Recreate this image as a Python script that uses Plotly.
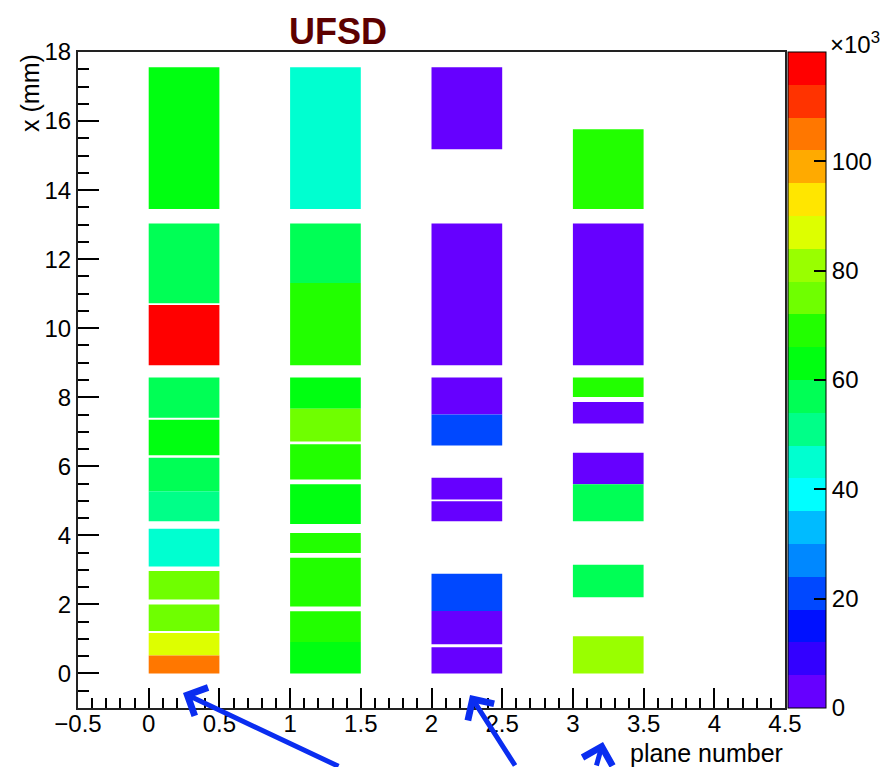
import plotly.graph_objects as go

# Readout of the four UFSD planes: each segment is a strip in x (mm)
# with its signal level (in units of 10^3).
planes = [0, 1, 2, 3]

seg_lo = [
    [13.45, 10.72, 8.93, 7.41, 6.32, 5.28, 4.41, 3.10, 2.14, 1.23, 0.52, 0.00],
    [13.45, 11.31, 8.93, 7.67, 6.72, 5.62, 4.33, 3.49, 1.94, 0.91, 0.00],
    [15.18, 8.93, 7.50, 6.60, 5.04, 4.41, 1.81, 0.85, 0.00],
    [13.45, 8.93, 8.01, 7.24, 5.48, 4.41, 2.21, 0.00],
]
seg_hi = [
    [17.56, 13.03, 10.67, 8.57, 7.35, 6.25, 5.28, 4.19, 2.97, 2.00, 1.17, 0.52],
    [17.56, 13.03, 11.31, 8.57, 7.67, 6.64, 5.48, 4.07, 3.35, 1.80, 0.91],
    [17.56, 13.03, 8.57, 7.50, 5.67, 4.99, 2.89, 1.81, 0.76],
    [15.76, 13.03, 8.57, 7.86, 6.39, 5.48, 3.15, 1.08],
]
seg_val = [
    [63, 57, 117, 57, 63, 57, 51, 45, 75, 75, 87, 105],
    [45, 57, 69, 63, 75, 69, 63, 69, 69, 69, 63],
    [3, 3, 3, 21, 3, 3, 21, 3, 3],
    [69, 3, 69, 3, 3, 57, 57, 81],
]

z_min, z_max = 0, 120
palette = [
    "#6600ff", "#3300ff", "#0011ff", "#0048ff", "#0088ff",
    "#00bbff", "#00ffff", "#00ffd0", "#00ff88", "#00ff55",
    "#00ff11", "#22ff00", "#6fff00", "#99ff00", "#ddff00",
    "#ffe600", "#ffaa00", "#ff7700", "#ff3300", "#ff0000",
]
cbar_ticks = [0, 20, 40, 60, 80, 100]
x_ticks = [-0.5, 0, 0.5, 1, 1.5, 2, 2.5, 3, 3.5, 4, 4.5]
y_ticks = [0, 2, 4, 6, 8, 10, 12, 14, 16, 18]

# stepped colour scale: one flat band per contour level
n = len(palette)
colorscale = []
for i, c in enumerate(palette):
    colorscale.append([i / n, c])
    colorscale.append([(i + 1) / n, c])

fig = go.Figure()
for p, lo, hi, val in zip(planes, seg_lo, seg_hi, seg_val):
    fig.add_trace(go.Bar(
        x=[p] * len(lo),
        base=lo,
        y=[h - l for l, h in zip(lo, hi)],
        width=0.5,
        offset=0,
        marker=dict(color=val, coloraxis="coloraxis", line=dict(width=0)),
        hoverinfo="skip",
        showlegend=False,
    ))

tick_font = dict(family="Liberation Sans, Arial, sans-serif", size=24, color="black")
title_font = dict(family="Liberation Sans, Arial, sans-serif", size=25, color="black")

fig.update_layout(
    width=880, height=767,
    margin=dict(l=78, r=95, t=52, b=59, autoexpand=False),
    paper_bgcolor="white", plot_bgcolor="white",
    barmode="overlay",
    coloraxis=dict(
        cmin=z_min, cmax=z_max,
        colorscale=colorscale,
        colorbar=dict(
            x=1.0045, xanchor="left", xref="paper",
            y=0.5, yanchor="middle", len=1, lenmode="fraction",
            thickness=38, thicknessmode="pixels",
            xpad=0, ypad=0,
            outlinewidth=1, outlinecolor="black",
            tickvals=cbar_ticks, ticktext=[str(t) for t in cbar_ticks],
            ticks="inside", ticklen=12, tickwidth=1.5, tickcolor="black",
            tickfont=tick_font,
        ),
    ),
    xaxis=dict(
        range=[-0.5, 4.5], tickvals=x_ticks,
        ticktext=[("\u22120.5" if t == -0.5 else f"{t:g}") for t in x_ticks],
        ticks="inside", ticklen=20, tickwidth=1.5, tickcolor="black",
        minor=dict(dtick=0.1, tick0=-0.5, ticks="inside", ticklen=10,
                   tickwidth=1.5, tickcolor="black"),
        showline=True, linecolor="#222", linewidth=2, mirror=True,
        showgrid=False, zeroline=False, tickfont=tick_font,
        ticklabelstandoff=-7,
    ),
    yaxis=dict(
        range=[-1, 18], tickvals=y_ticks,
        ticks="inside", ticklen=21, tickwidth=1.5, tickcolor="black",
        minor=dict(dtick=0.5, tick0=0, ticks="inside", ticklen=11,
                   tickwidth=1.5, tickcolor="black"),
        showline=True, linecolor="#222", linewidth=2, mirror=True,
        showgrid=False, zeroline=False, tickfont=tick_font,
    ),
)

annotations = [
    dict(text="<b>UFSD</b>", xref="paper", yref="paper", x=0.368, y=1.031,
         xanchor="center", yanchor="middle", showarrow=False,
         font=dict(family="Liberation Sans, Arial, sans-serif", size=36, color="#5c0000")),
    dict(text="x (mm)", xref="paper", yref="paper", x=-0.068, y=1.0,
         xanchor="center", yanchor="top", textangle=-90, showarrow=False,
         font=title_font),
    dict(text="plane number", xref="paper", yref="paper", x=1.0, y=-0.068,
         xanchor="right", yanchor="middle", showarrow=False, font=title_font),
    dict(text="\u00d710<sup>3</sup>", xref="paper", yref="paper", x=1.061, y=1.014,
         xanchor="left", yanchor="middle", showarrow=False,
         font=dict(family="Liberation Sans, Arial, sans-serif", size=24, color="black")),
]

# blue pointer arrows below the axis
for tip_x, tip_y, ax, ay in [(0.1485, 0.0229, 157, 89),
                             (0.5545, 0.0198, 46, 87),
                             (0.7426, -0.0518, -7, 35)]:
    annotations.append(dict(
        text="", xref="paper", yref="paper", x=tip_x, y=tip_y,
        ax=ax, ay=ay, showarrow=True, arrowhead=4, arrowsize=1.2,
        arrowwidth=5, arrowcolor="#0a2df0", standoff=0,
    ))

fig.update_layout(annotations=annotations)

fig.write_html("out.html")
